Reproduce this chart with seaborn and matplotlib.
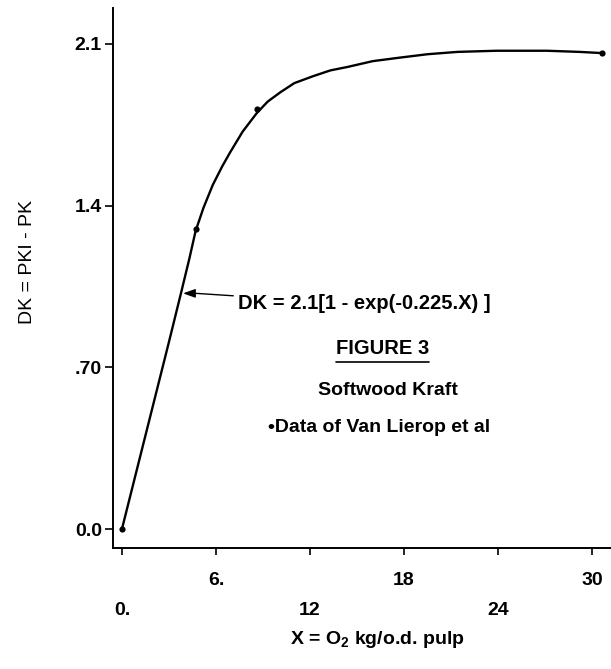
import matplotlib
matplotlib.use("Agg")
from matplotlib import pyplot as plt
from matplotlib.lines import Line2D
import seaborn as sns
import pandas as pd

# curve
curve_x = [0, 1, 2, 3, 3.8, 4.3, 4.7, 5.2, 5.8, 6.4, 6.9, 7.7, 8.6, 9.3, 10.1, 11, 12.2,
           13.3, 14.4, 16, 17.7, 19.5, 21.4, 23.9, 27.1, 29.2, 30.6]
curve_y = [0, 0.27, 0.54, 0.81, 1.03, 1.17, 1.29, 1.39, 1.49, 1.57, 1.63, 1.72, 1.80, 1.85, 1.89, 1.93, 1.96,
           1.985, 2.00, 2.025, 2.04, 2.055, 2.065, 2.07, 2.07, 2.065, 2.06]

# data points (Van Lierop et al)
pts_x = [0, 4.7, 8.6, 30.6]
pts_y = [0, 1.30, 1.82, 2.06]

yticks = [0, 0.7, 1.4, 2.1]
ytick_labels = ["0.0", ".70", "1.4", "2.1"]
xticks_upper = [6, 18, 30]
xticks_upper_labels = ["6.", "18", "30"]
xticks_lower = [0, 12, 24]
xticks_lower_labels = ["0.", "12", "24"]

sns.set_theme(style="ticks")
plt.rcParams['font.family'] = ['Liberation Sans', 'DejaVu Sans']
plt.rcParams['mathtext.fontset'] = 'custom'
plt.rcParams['mathtext.rm'] = 'Liberation Sans:bold'
plt.rcParams['mathtext.it'] = 'Liberation Sans:bold'

fig = plt.figure(figsize=(6.11, 6.69), dpi=100)
ax = fig.add_axes([113 / 611, 1 - 548 / 669, (611 - 113) / 611, (548 - 8) / 669])

curve = pd.DataFrame({'x': curve_x, 'y': curve_y})
pts = pd.DataFrame({'x': pts_x, 'y': pts_y})
sns.lineplot(data=curve, x='x', y='y', sort=False, estimator=None, color='black', linewidth=1.7, ax=ax)
sns.scatterplot(data=pts, x='x', y='y', color='black', s=20, linewidth=0, ax=ax, zorder=3)

ax.set_xlim(-0.57, 31.2)
ax.set_ylim(-0.082, 2.255)
sns.despine(ax=ax)
for s in ['left', 'bottom']:
    ax.spines[s].set_linewidth(1.4)
    ax.spines[s].set_color('black')

ax.set_yticks(yticks, ytick_labels)
ax.set_xticks(xticks_upper, xticks_upper_labels)
ax.set_xticks(xticks_lower, xticks_lower_labels, minor=True)
ax.tick_params(axis='y', length=6, width=1.2, pad=2, labelsize=14, colors='black')
ax.tick_params(axis='x', which='major', length=5, width=1.2, pad=12, labelsize=14, colors='black')
ax.tick_params(axis='x', which='minor', length=5, width=1.2, pad=34, labelsize=14, colors='black')
for lab in ax.get_yticklabels() + ax.get_xticklabels() + ax.get_xticklabels(minor=True):
    lab.set_fontweight('bold')

ax.set_ylabel("DK = PKI - PK", fontsize=14, color='black')
ax.set_xlabel("X = O$_2$ kg/o.d. pulp", fontsize=14, color='black', fontweight='bold')
ax.yaxis.set_label_coords(-0.155, 0.53)
ax.xaxis.set_label_coords(0.53, -0.15)

# equation with the wiggly pointer back to the curve
ax.annotate("DK = 2.1[1 - exp(-0.225.X) ]",
            xy=(3.9, 1.02), xytext=(7.4, 0.975), fontsize=14.5, color='black', fontweight='bold',
            ha='left', va='center',
            arrowprops=dict(arrowstyle='-|>,head_length=0.5,head_width=0.18', color='black', lw=1.0,
                            shrinkA=1, shrinkB=0,
                            connectionstyle='arc,angleA=180,armA=9,angleB=0,armB=13,rad=2'))
fig_txt = ax.text(16.6, 0.78, "FIGURE 3", fontsize=14.5, color='black', ha='center', va='center',
                  fontweight='bold')
ax.text(17.0, 0.60, "Softwood Kraft", fontsize=14, color='black', ha='center', va='center',
        fontweight='bold')
ax.text(16.4, 0.44, "\u2022Data of Van Lierop et al", fontsize=14, color='black', ha='center',
        va='center', fontweight='bold')

# underline the figure title
renderer = fig.canvas.get_renderer()
bb = fig_txt.get_window_extent(renderer).transformed(fig.transFigure.inverted())
fig.add_artist(Line2D([bb.x0, bb.x1], [bb.y0 - 0.005, bb.y0 - 0.005], transform=fig.transFigure,
                      color='black', linewidth=1.2))

fig.savefig("out.png", dpi=100)
